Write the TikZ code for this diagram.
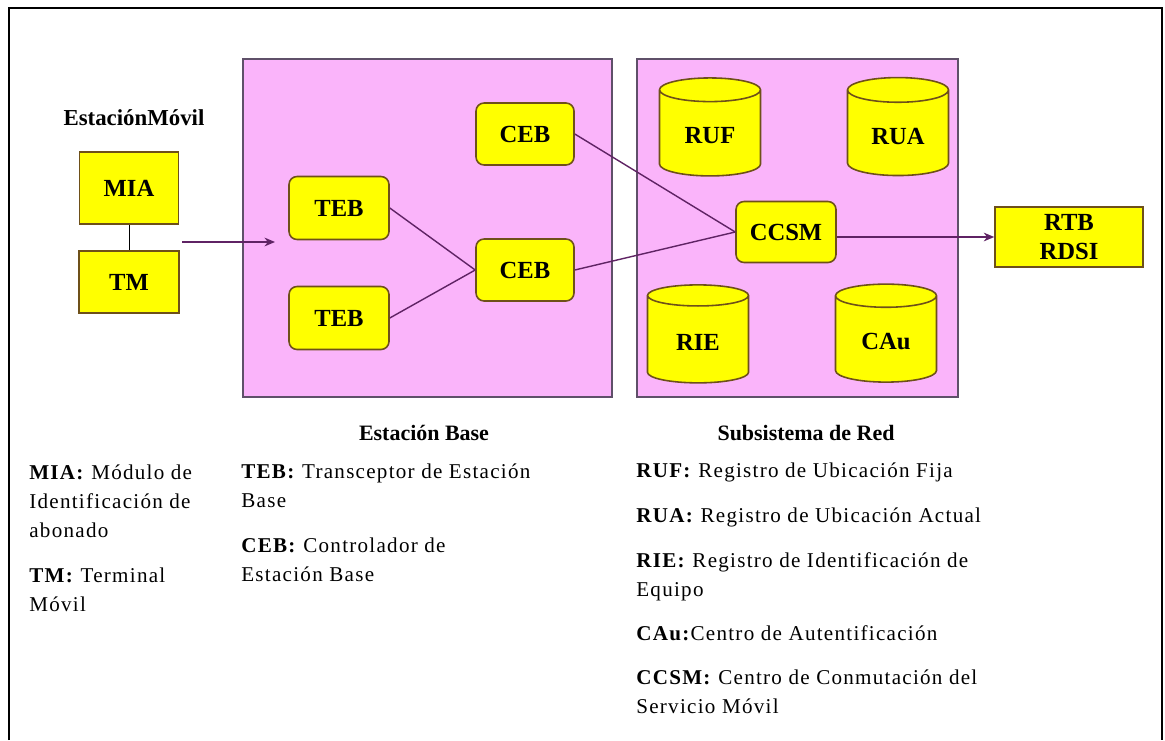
\documentclass[tikz,border=0pt]{standalone}
\usepackage{fontspec}
\setmainfont{Liberation Serif}
\newfontfamily\legendfont[LetterSpace=6]{Liberation Serif}
\usepackage{xcolor}
\usepackage{tikz}
\usetikzlibrary{shapes.geometric,arrows.meta}

\definecolor{rosa}{RGB}{250,180,250}
\definecolor{amarillo}{RGB}{255,255,0}
\definecolor{borde}{RGB}{110,80,25}
\definecolor{marco}{RGB}{95,80,105}
\definecolor{linea}{RGB}{95,35,100}

\tikzset{
  caja/.style={rectangle, draw=borde, fill=amarillo, line width=0.9pt, font=\bfseries\fontsize{14}{16.4}\selectfont},
  cajar/.style={caja, rounded corners=0.16cm},
  registro/.style={cylinder, shape border rotate=90, aspect=0.38, draw=borde, fill=amarillo, line width=0.9pt, minimum width=2.02cm, minimum height=1.96cm, font=\bfseries\fontsize{14}{16}\selectfont},
  zona/.style={rectangle, draw=marco, fill=rosa, line width=1pt},
  titulo/.style={font=\bfseries\fontsize{12.5}{15}\selectfont},
  leyenda/.style={anchor=west, align=left, inner sep=0pt, font=\legendfont\fontsize{12}{16.4}\selectfont},
  enlace/.style={draw=linea, line width=0.8pt},
  flecha/.style={enlace, -{Stealth[length=6pt, width=5pt]}}
}

\begin{document}
\begin{tikzpicture}[x=0.02cm, y=-0.02cm]
\useasboundingbox (0,0) rectangle (1165,740);
\draw[line width=1.2pt] (9,740) -- (9,8) -- (1162,8) -- (1162,740);

\node at (427.5,228) [zona, minimum width=7.38cm, minimum height=6.76cm] (base) {};
\node at (797.5,228) [zona, minimum width=6.42cm, minimum height=6.76cm] (red) {};

\node at (134,118) [titulo, font=\bfseries\fontsize{13}{15}\selectfont] (movil) {EstaciónMóvil};
\node at (129,188) [caja, minimum width=1.98cm, minimum height=1.44cm] (mia) {MIA};
\node at (129,282) [caja, minimum width=2cm, minimum height=1.24cm] (tm) {TM};

\node at (339,208) [cajar, minimum width=2cm, minimum height=1.26cm] (teb1) {TEB};
\node at (339,318) [cajar, minimum width=2cm, minimum height=1.26cm] (teb2) {TEB};
\node at (525,134) [cajar, minimum width=1.96cm, minimum height=1.24cm] (ceb1) {CEB};
\node at (525,270) [cajar, minimum width=1.96cm, minimum height=1.24cm] (ceb2) {CEB};

\node at (786,232) [cajar, minimum width=2cm, minimum height=1.22cm] (ccsm) {CCSM};
\node at (710,136) [registro] (ruf) {RUF};
\node at (898,136) [registro] (rua) {RUA};
\node at (698,342) [registro] (rie) {RIE};
\node at (886,342) [registro] (cau) {CAu};

\node at (1069,237) [caja, align=center, minimum width=2.96cm, minimum height=1.2cm, inner sep=1pt] (rtb) {RTB\\RDSI};

\coordinate (salida) at (182,242);
\coordinate (entrada) at (275,242);
\draw (mia) -- (tm);
\draw (salida)[flecha] -- (entrada);
\draw (teb1.east)[enlace] -- (ceb2.west);
\draw (teb2.east)[enlace] -- (ceb2.west);
\draw (ceb1.east)[enlace] -- (ccsm.west);
\draw (ceb2.east)[enlace] -- (ccsm.west);
\draw (ccsm.east |- rtb.west)[flecha] -- (rtb.west);

% leyendas
\node at (424,433) [titulo] (tbase) {Estación Base};
\node at (806,433) [titulo] (tred) {Subsistema de Red};

\node at (29,501) [leyenda] (lmia) {\textbf{MIA:} Módulo de\\Identificación de\\abonado};
\node at (29,590) [leyenda] (ltm) {\textbf{TM:} Terminal\\Móvil};
\node at (241,486) [leyenda] (lteb) {\textbf{TEB:} Transceptor de Estación\\Base};
\node at (241,560) [leyenda] (lceb) {\textbf{CEB:} Controlador de\\Estación Base};
\node at (636,472) [leyenda] (lruf) {\textbf{RUF:} Registro de Ubicación Fija};
\node at (636,517) [leyenda] (lrua) {\textbf{RUA:} Registro de Ubicación Actual};
\node at (636,577) [leyenda] (lrie) {\textbf{RIE:} Registro de Identificación de\\Equipo};
\node at (636,633) [leyenda] (lcau) {\textbf{CAu:}Centro de Autentificación};
\node at (636,692) [leyenda] (lccsm) {\textbf{CCSM:} Centro de Conmutación del\\Servicio Móvil};
\end{tikzpicture}
\end{document}
